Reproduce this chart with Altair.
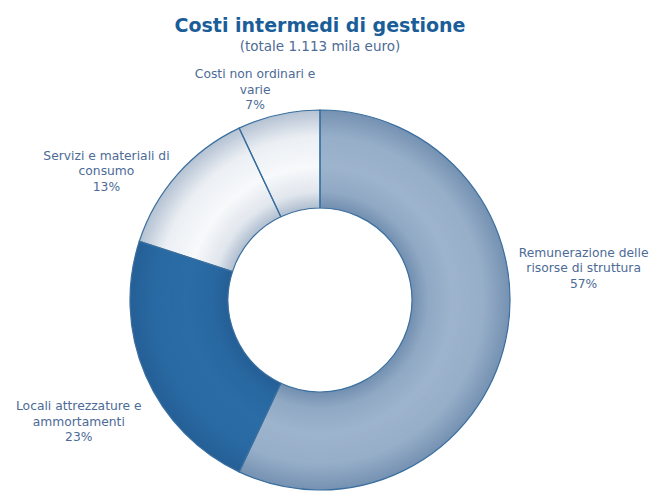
import altair as alt
import pandas as pd

# ---- data ----
categories = [
    "Remunerazione delle risorse di struttura",
    "Locali attrezzature e ammortamenti",
    "Servizi e materiali di consumo",
    "Costi non ordinari e varie",
]
label_lines = [
    "Remunerazione delle\nrisorse di struttura",
    "Locali attrezzature e\nammortamenti",
    "Servizi e materiali di\nconsumo",
    "Costi non ordinari e\nvarie",
]
values = [57, 23, 13, 7]
order = [1, 2, 3, 4]

df = pd.DataFrame({
    "categoria": categories,
    "valore": values,
    "ordine": order,
    "etichetta": [f"{l}\n{v}%" for l, v in zip(label_lines, values)],
})

# ---- styles ----
fill_colors = ["#9db4cd", "#2a6ca6", "#f7f9fb", "#f7f9fb"]
stroke_col = "#3a6f9f"
text_col = "#4d6b96"
R_OUT, R_IN = 190, 92

# per-label layout: (radius, dx, dy)
label_layout = {
    categories[0]: (265, 5, -105),
    categories[1]: (265, 2, 1),
    categories[2]: (250, -26, 21),
    categories[3]: (215, -18, -16),
}

theta_enc = alt.Theta("valore:Q", stack=True)
order_enc = alt.Order("ordine:Q", sort="ascending")

base = alt.Chart(df)

slices = base.mark_arc(outerRadius=R_OUT, innerRadius=R_IN).encode(
    theta=theta_enc,
    order=order_enc,
    color=alt.Color(
        "categoria:N",
        scale=alt.Scale(domain=categories, range=fill_colors),
        legend=None,
    ),
)

shade = {
    "gradient": "radial",
    "x1": 0.5, "y1": 0.5, "r1": 0,
    "x2": 0.5, "y2": 0.5, "r2": 0.5,
    "stops": [
        {"offset": 0.0, "color": "rgba(25,65,115,0)"},
        {"offset": 0.484, "color": "rgba(25,65,115,0.32)"},
        {"offset": 0.57, "color": "rgba(25,65,115,0.10)"},
        {"offset": 0.70, "color": "rgba(25,65,115,0)"},
        {"offset": 0.86, "color": "rgba(25,65,115,0.05)"},
        {"offset": 1.0, "color": "rgba(25,65,115,0.30)"},
    ],
}

ring_shade = base.transform_aggregate(totale="sum(valore)").mark_arc(
    outerRadius=R_OUT, innerRadius=R_IN, fill=shade
).encode(theta=alt.Theta("totale:Q"))

outlines = base.mark_arc(
    outerRadius=R_OUT, innerRadius=R_IN, fillOpacity=0,
    stroke=stroke_col, strokeWidth=1.2,
).encode(theta=theta_enc, order=order_enc)

label_base = base.transform_window(
    cum="sum(valore)", sort=[alt.SortField("ordine")], frame=[None, 0]
).transform_calculate(mid="datum.cum - datum.valore / 2")

label_layers = []
for cat in categories:
    r, dx, dy = label_layout[cat]
    label_layers.append(
        label_base.transform_filter(alt.datum.categoria == cat)
        .mark_text(
            radius=r, dx=dx, dy=dy, lineBreak="\n", align="center",
            baseline="middle", fontSize=12.3, lineHeight=15.5,
            font="DejaVu Sans", color=text_col,
        )
        .encode(theta=alt.Theta("mid:Q", stack=False), text="etichetta:N")
    )

chart = alt.layer(slices, ring_shade, outlines, *label_layers).properties(
    width=624,
    height=380,
    padding={"top": 102, "left": 0, "right": 21, "bottom": 3},
    autosize=alt.AutoSizeParams(type="none"),
    title=alt.TitleParams(
        text="Costi intermedi di gestione",
        subtitle="(totale 1.113 mila euro)",
        anchor="middle",
        font="DejaVu Sans",
        fontSize=19,
        fontWeight="bold",
        color="#1a5d98",
        subtitleFont="DejaVu Sans",
        subtitleFontSize=13.5,
        subtitleColor="#4d6b96",
        subtitlePadding=4,
        offset=15,
    ),
).configure_view(stroke=None)

chart.save("out.html", embed_options={"renderer": "svg", "actions": False})
